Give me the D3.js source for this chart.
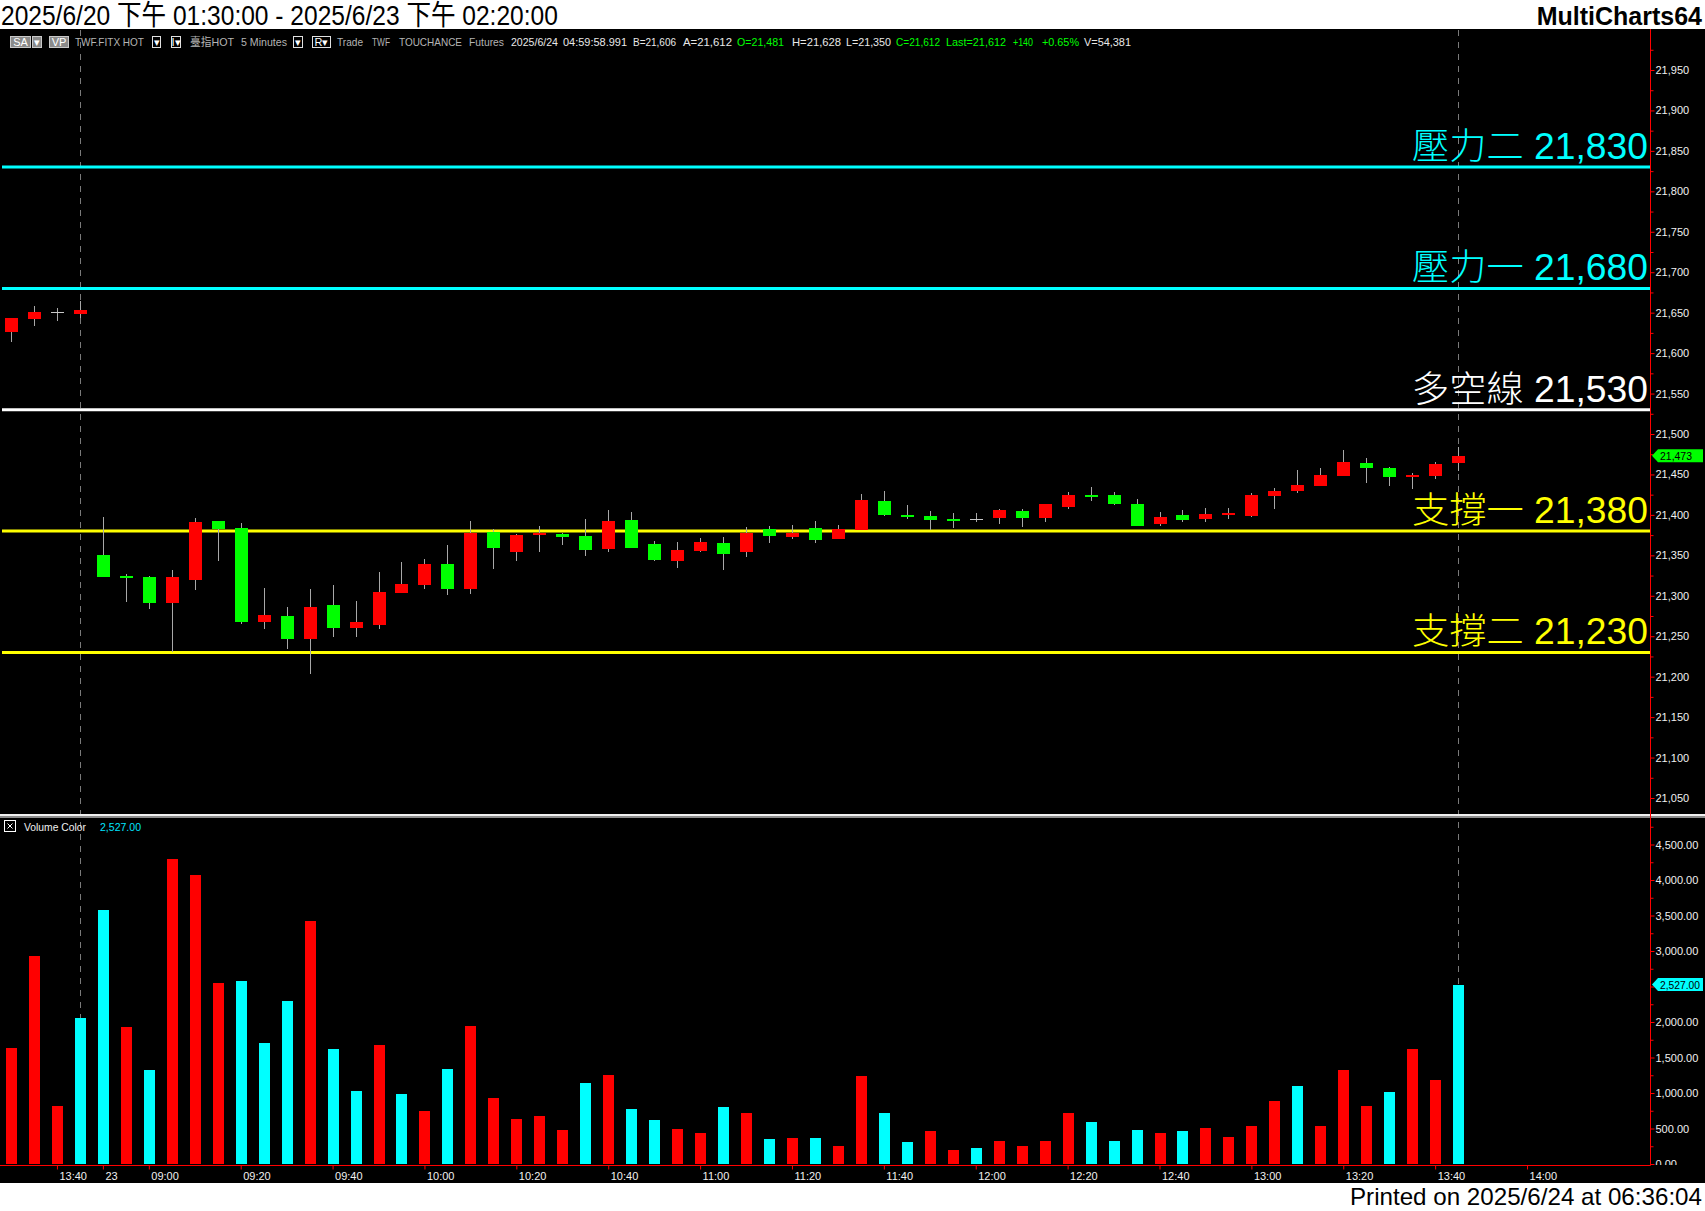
<!DOCTYPE html>
<html><head><meta charset="utf-8">
<script src="https://cdn.jsdelivr.net/npm/d3@7"></script>
<style>html,body{margin:0;padding:0;background:#fff;overflow:hidden}svg{display:block}</style>
</head><body><svg id="c" width="1705" height="1211"></svg>
<script>
// ---------- DATA ----------
const slots = ["6/20 13:30","6/20 13:35","6/20 13:40","6/20 13:45",
"6/23 08:50","6/23 08:55","6/23 09:00","6/23 09:05","6/23 09:10","6/23 09:15","6/23 09:20","6/23 09:25","6/23 09:30","6/23 09:35","6/23 09:40","6/23 09:45","6/23 09:50","6/23 09:55",
"6/23 10:00","6/23 10:05","6/23 10:10","6/23 10:15","6/23 10:20","6/23 10:25","6/23 10:30","6/23 10:35","6/23 10:40","6/23 10:45","6/23 10:50","6/23 10:55",
"6/23 11:00","6/23 11:05","6/23 11:10","6/23 11:15","6/23 11:20","6/23 11:25","6/23 11:30","6/23 11:35","6/23 11:40","6/23 11:45","6/23 11:50","6/23 11:55",
"6/23 12:00","6/23 12:05","6/23 12:10","6/23 12:15","6/23 12:20","6/23 12:25","6/23 12:30","6/23 12:35","6/23 12:40","6/23 12:45","6/23 12:50","6/23 12:55",
"6/23 13:00","6/23 13:05","6/23 13:10","6/23 13:15","6/23 13:20","6/23 13:25","6/23 13:30","6/23 13:35","6/23 13:40","6/23 13:45","6/23 13:50","6/23 13:55",
"6/23 14:00","6/23 14:05","6/23 14:10","6/23 14:15","6/23 14:20"];

const opens  = [21626,21642,21650,21648,21350,21325,21323,21291,21319,21393,21384,21268,21275,21247,21289,21260,21264,21303,21313,21339,21308,21379,21354,21375,21376,21374,21358,21394,21364,21343,21355,21365,21354,21382,21373,21384,21370,21381,21417,21400,21399,21395,21394,21396,21405,21396,21410,21425,21425,21413,21389,21400,21395,21400,21399,21423,21430,21436,21448,21464,21458,21447,21448,21464];
const highs  = [21644,21658,21656,21664,21397,21327,21325,21332,21396,21393,21390,21310,21286,21308,21313,21294,21329,21342,21345,21363,21392,21383,21376,21386,21377,21395,21406,21404,21368,21366,21371,21373,21385,21386,21387,21392,21387,21426,21429,21412,21405,21402,21402,21407,21407,21413,21428,21434,21428,21420,21404,21406,21408,21408,21427,21433,21455,21458,21480,21470,21459,21452,21465,21484];
const lows   = [21614,21633,21640,21644,21323,21292,21284,21230,21307,21343,21265,21259,21234,21203,21249,21249,21259,21303,21308,21301,21302,21333,21343,21354,21363,21349,21354,21359,21343,21334,21354,21332,21348,21365,21370,21365,21370,21381,21399,21395,21381,21384,21391,21389,21385,21391,21407,21417,21412,21386,21386,21391,21391,21395,21397,21407,21427,21436,21448,21439,21436,21432,21444,21454];
const closes = [21643,21651,21650,21653,21323,21322,21291,21323,21391,21383,21268,21276,21247,21286,21260,21268,21305,21315,21339,21308,21378,21359,21375,21378,21373,21357,21392,21359,21344,21357,21366,21352,21378,21374,21378,21369,21382,21418,21400,21397,21394,21392,21394,21406,21396,21413,21425,21422,21413,21386,21397,21394,21401,21402,21425,21430,21437,21449,21465,21458,21447,21449,21463,21473];
const volumes = [1630,2930,815,2060,3580,1935,1320,4300,4070,2550,2580,1705,2290,3425,1615,1030,1675,985,740,1335,1950,935,630,675,475,1135,1260,770,615,490,430,800,720,355,370,370,260,1245,720,310,460,200,230,325,260,325,720,585,325,475,430,460,505,385,540,890,1105,540,1320,815,1015,1615,1185,2527];
const volumeColors = ["R","R","R","C","C","R","C","R","R","R","C","C","C","R","C","C","R","C","R","C","R","R","R","R","R","C","R","C","C","R","R","C","R","C","R","C","R","R","C","C","R","R","C","R","R","R","R","C","C","C","R","C","R","R","R","R","C","R","R","R","C","R","R","C"];

const priceTicks = [21050,21100,21150,21200,21250,21300,21350,21400,21450,21500,21550,21600,21650,21700,21750,21800,21850,21900,21950];
const volumeTicks = [0,500,1000,1500,2000,2500,3000,3500,4000,4500];
const tickSlots = ["6/20 13:40","6/23 08:50","6/23 09:00","6/23 09:20","6/23 09:40","6/23 10:00","6/23 10:20","6/23 10:40","6/23 11:00","6/23 11:20","6/23 11:40","6/23 12:00","6/23 12:20","6/23 12:40","6/23 13:00","6/23 13:20","6/23 13:40","6/23 14:00"];
const tickLabels = ["13:40","23","09:00","09:20","09:40","10:00","10:20","10:40","11:00","11:20","11:40","12:00","12:20","12:40","13:00","13:20","13:40","14:00"];

const levelValues = [21830,21680,21530,21380,21230];
const levelNames = ["壓力二","壓力一","多空線","支撐一","支撐二"];
const levelColors = ["#00ffff","#00ffff","#ffffff","#ffff00","#ffff00"];
const sessionEnds = ["6/20 13:45","6/23 13:45"];
const lastPrice = 21473;
const lastVolume = 2527;
const titleText = "2025/6/20 下午 01:30:00 - 2025/6/23 下午 02:20:00";

// ---------- LAYOUT ----------
const svg = d3.select("#c");
const AX = 1650.5;
const FONT = "'Liberation Sans', Arial, 'Noto Sans CJK TC', sans-serif";
const NARROW = "'Liberation Sans Narrow', 'Liberation Sans', Arial, 'Noto Sans CJK TC', sans-serif";

const x = d3.scalePoint().domain(slots).range([11, 11 + 22.97*(slots.length-1)]);
const yP = d3.scaleLinear().domain([21050,21950]).range([798,70]);
const yV = d3.scaleLinear().domain([0,4500]).range([1164,844.5]);

// background
svg.append("rect").attr("x",0).attr("y",0).attr("width",1705).attr("height",1211).attr("fill","#fff");
svg.append("rect").attr("x",0).attr("y",29).attr("width",1705).attr("height",1154).attr("fill","#000");

// header
const tg = svg.append("g").attr("transform","translate(1,25)");
const tt = tg.append("text").attr("x",0).attr("y",0).attr("font-family",FONT).attr("font-size",28).attr("fill","#000").text(titleText);
const natural = tt.node().getComputedTextLength();
tg.attr("transform",`translate(1,25) scale(${557/natural},1)`);
svg.append("text").attr("x",1702).attr("y",25).attr("text-anchor","end").attr("font-family",FONT)
  .attr("font-weight","bold").attr("font-size",25).attr("fill","#000").text("MultiCharts64");

// footer
svg.append("text").attr("x",1702).attr("y",1205).attr("text-anchor","end").attr("font-family",FONT).attr("font-size",24)
  .attr("fill","#000").attr("textLength",352).attr("lengthAdjust","spacingAndGlyphs").text("Printed on 2025/6/24 at 06:36:04");

// session dashed lines
svg.append("g").selectAll("line").data(sessionEnds).join("line")
  .attr("x1",d=>Math.round(x(d))+0.5).attr("x2",d=>Math.round(x(d))+0.5).attr("y1",30).attr("y2",1165)
  .attr("stroke","#7a7a7a").attr("stroke-width",1).attr("stroke-dasharray","6,6");

// info bar
const info = svg.append("g").attr("font-family",NARROW).attr("font-size",11.5);
function btn(x0,w,label,filled){
  info.append("rect").attr("x",x0+0.5).attr("y",36.5).attr("width",w).attr("height",11)
    .attr("fill",filled?"#8a8a8a":"#000").attr("stroke",filled?"#c8c8c8":"#e0e0e0").attr("stroke-width",1);
  info.append("text").attr("x",x0+w/2+0.5).attr("y",46).attr("text-anchor","middle").attr("fill","#fff").attr("font-size",11).text(label);
}
btn(10,20,"SA",true); btn(32,9,"▾",true); btn(49,19,"VP",true);
btn(152,8,"▾",false); btn(171,9,"I▾",false); btn(293,9,"▾",false); btn(312,18,"R▾",false);
const infoItems = [
  [75,69,"TWF.FITX HOT","#b4b4b4"],[190,44,"臺指HOT","#b4b4b4"],[241,46,"5 Minutes","#b4b4b4"],
  [337,26,"Trade","#b4b4b4"],[372,18,"TWF","#b4b4b4"],[399,63,"TOUCHANCE","#b4b4b4"],[469,35,"Futures","#b4b4b4"],
  [511,47,"2025/6/24","#e8e8e8"],[563,64,"04:59:58.991","#e8e8e8"],[633,43,"B=21,606","#e8e8e8"],[683,49,"A=21,612","#e8e8e8"],
  [737,47,"O=21,481","#00ff00"],[792,49,"H=21,628","#e8e8e8"],[846,45,"L=21,350","#e8e8e8"],[896,44,"C=21,612","#00ff00"],
  [946,60,"Last=21,612","#00ff00"],[1013,20,"+140","#00ff00"],[1042,37,"+0.65%","#00ff00"],[1084,47,"V=54,381","#e8e8e8"]];
info.selectAll("text.it").data(infoItems).join("text").attr("class","it")
  .attr("x",d=>d[0]).attr("y",46).attr("fill",d=>d[3]).attr("textLength",d=>d[1]).attr("lengthAdjust","spacingAndGlyphs").text(d=>d[2]);

// level lines
const lv = svg.append("g");
levelValues.forEach((v,k)=>{
  lv.append("line").attr("x1",2).attr("x2",AX).attr("y1",yP(v)).attr("y2",yP(v))
    .attr("stroke",levelColors[k]).attr("stroke-width",3);
  lv.append("text").attr("x",1648).attr("y",yP(v)-8).attr("text-anchor","end").attr("font-family",FONT)
    .attr("font-size",36).attr("font-weight",300).attr("fill",levelColors[k]).attr("textLength",236).attr("lengthAdjust","spacingAndGlyphs")
    .text(levelNames[k]+" "+d3.format(",")(v));
});

// candles
const bars = d3.range(opens.length).map(i=>({t:slots[i],o:opens[i],h:highs[i],l:lows[i],c:closes[i],v:volumes[i],vc:volumeColors[i]}));
const cg = svg.append("g").attr("shape-rendering","crispEdges");
cg.selectAll("line.wick").data(bars).join("line").attr("class","wick")
  .attr("x1",d=>Math.round(x(d.t))+0.5).attr("x2",d=>Math.round(x(d.t))+0.5)
  .attr("y1",d=>yP(d.h)).attr("y2",d=>yP(d.l)).attr("stroke","#a8a8a8").attr("stroke-width",1);
const candleColor = d=> d.c>d.o ? "#ff0000" : (d.c<d.o ? "#00ff00" : "#c8c8c8");
cg.selectAll("rect.body").data(bars).join("rect").attr("class","body")
  .attr("x",d=>Math.round(x(d.t))-6).attr("width",13)
  .attr("y",d=>d.c===d.o ? yP(d.c)-0.5 : Math.min(yP(d.o),yP(d.c)))
  .attr("height",d=>d.c===d.o ? 1 : Math.max(2,Math.abs(yP(d.o)-yP(d.c))))
  .attr("fill",candleColor);

// volume bars
const vg = svg.append("g").attr("shape-rendering","crispEdges");
vg.selectAll("rect").data(bars).join("rect")
  .attr("x",d=>Math.round(x(d.t))-5).attr("width",11)
  .attr("y",d=>yV(d.v)).attr("height",d=>yV(0)-yV(d.v))
  .attr("fill",d=>d.vc==="R"?"#ff0000":"#00ffff");

// separator between panels
svg.append("rect").attr("x",0).attr("y",814).attr("width",1705).attr("height",2).attr("fill","#f0f0f0");
svg.append("rect").attr("x",0).attr("y",816).attr("width",1705).attr("height",2).attr("fill","#8c8c8c");

// volume title
svg.append("rect").attr("x",4.5).attr("y",820.5).attr("width",11).attr("height",11).attr("fill","none").attr("stroke","#fff");
svg.append("path").attr("d","M7.5,823.5L12.5,828.5M12.5,823.5L7.5,828.5").attr("stroke","#fff");
svg.append("text").attr("x",24).attr("y",831).attr("font-family",FONT).attr("font-size",11).attr("fill","#f0f0f0")
  .attr("textLength",62).attr("lengthAdjust","spacingAndGlyphs").text("Volume Color");
svg.append("text").attr("x",100).attr("y",831).attr("font-family",FONT).attr("font-size",11).attr("fill","#00e5ff")
  .attr("textLength",41).attr("lengthAdjust","spacingAndGlyphs").text(d3.format(",.2f")(lastVolume));

// axes lines
svg.append("line").attr("x1",AX).attr("x2",AX).attr("y1",29).attr("y2",1165.5).attr("stroke","#ff0000").attr("stroke-width",1);
svg.append("line").attr("x1",0).attr("x2",AX).attr("y1",1165.5).attr("y2",1165.5).attr("stroke","#ff0000").attr("stroke-width",1);

// price axis
const minorP = priceTicks.slice(0,-1).map(v=>v+25).concat([21025,21975]);
const pa = svg.append("g").attr("transform",`translate(${AX},0)`)
  .call(d3.axisRight(yP).tickValues(priceTicks).tickFormat(d3.format(",")).tickSize(4).tickPadding(1));
const pm = svg.append("g").attr("transform",`translate(${AX},0)`)
  .call(d3.axisRight(yP).tickValues(minorP.filter(v=>yP(v)>30&&yP(v)<812)).tickFormat("").tickSize(3));
[pa,pm].forEach(g=>{g.select(".domain").remove(); g.selectAll("line").attr("stroke","#ff0000");});
pa.selectAll("text").attr("fill","#f0f0f0").attr("font-family",FONT).attr("font-size",11);

// volume axis with clip (2,500.00 label is hidden behind the last-volume tag in the reference)
svg.append("clipPath").attr("id","vclip").append("rect").attr("x",AX).attr("y",818).attr("width",60).attr("height",347);
const va = svg.append("g").attr("clip-path","url(#vclip)").append("g").attr("transform",`translate(${AX},0)`)
  .call(d3.axisRight(yV).tickValues(volumeTicks).tickFormat(d=> d===2500 ? "" : d3.format(",.2f")(d)).tickSize(4).tickPadding(1));
const vmTicks = volumeTicks.map(v=>v+250);
const vm = svg.append("g").attr("clip-path","url(#vclip)").append("g").attr("transform",`translate(${AX},0)`)
  .call(d3.axisRight(yV).tickValues(vmTicks).tickFormat("").tickSize(3));
[va,vm].forEach(g=>{g.select(".domain").remove(); g.selectAll("line").attr("stroke","#ff0000");});
va.selectAll("text").attr("fill","#f0f0f0").attr("font-family",FONT).attr("font-size",11);

// time axis
const ta = svg.append("g").attr("transform","translate(0,1165.5)")
  .call(d3.axisBottom(x).tickValues(tickSlots).tickFormat((d,i)=>tickLabels[i]).tickSize(4));
ta.select(".domain").remove();
ta.selectAll("line").attr("stroke","#ff0000");
ta.selectAll("text").attr("fill","#f0f0f0").attr("font-family",FONT).attr("font-size",11)
  .attr("text-anchor","start").attr("x",2).attr("dy",null).attr("y",14.5);

// last value tags
function tag(yc,label,color,tw){
  const g = svg.append("g");
  g.append("path").attr("d",`M1652,${yc}L1658,${yc-6.5}L1703,${yc-6.5}L1703,${yc+6.5}L1658,${yc+6.5}Z`).attr("fill",color);
  g.append("text").attr("x",1660).attr("y",yc+4).attr("font-family",FONT).attr("font-size",11).attr("fill","#000")
    .attr("textLength",tw).attr("lengthAdjust","spacingAndGlyphs").text(label);
}
tag(yP(lastPrice),d3.format(",")(lastPrice),"#00ff00",32);
tag(yV(lastVolume),d3.format(",.2f")(lastVolume),"#00ffff",40);
</script></body></html>
